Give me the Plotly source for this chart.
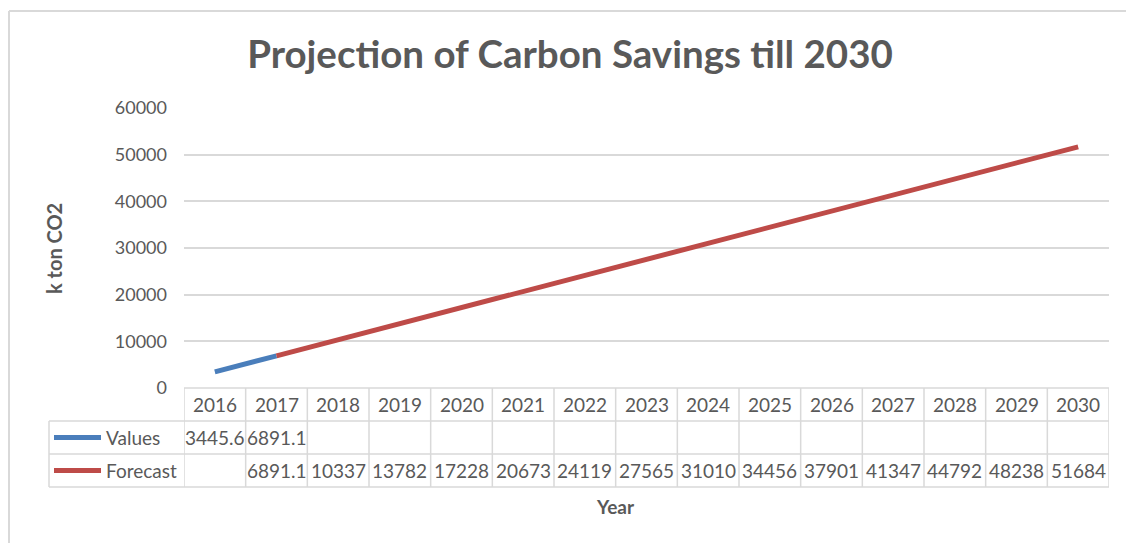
import plotly.graph_objects as go

# Chart data
years = [str(y) for y in range(2016, 2031)]
values = [3445.6, 6891.1] + [None] * 13
forecast = [None, 6891.1, 10337, 13782, 17228, 20673, 24119, 27565, 31010,
            34456, 37901, 41347, 44792, 48238, 51684]
values_text = ["3445.6", "6891.1"] + [""] * 13
forecast_text = [""] + ["6891.1", "10337", "13782", "17228", "20673", "24119",
                        "27565", "31010", "34456", "37901", "41347", "44792",
                        "48238", "51684"]

W, H = 1126, 543
BLUE = "#4a7ebb"
RED = "#be4b48"
GRID = "#d9d9d9"
TXT = "#595959"
FONT = "Lato"

def px(x):
    return x / W

def py(y):
    return 1 - y / H

fig = go.Figure()
fig.add_trace(go.Scatter(x=years, y=values, mode="lines", name="Values",
                         line=dict(color=BLUE, width=5), connectgaps=False))
fig.add_trace(go.Scatter(x=years, y=forecast, mode="lines", name="Forecast",
                         line=dict(color=RED, width=5), connectgaps=False))

# Data table rows (pixel rows)
hdr_top, hdr_bot, val_bot, fc_bot = 388, 421, 454, 487
leg_left = 49

shapes = []
ann = []
line_style = dict(color=GRID, width=1.5)

# Horizontal table borders
shapes.append(dict(type="line", xref="x", yref="paper", x0=-0.5, x1=14.5,
                   y0=py(hdr_top), y1=py(hdr_top), line=line_style))
for yy in (hdr_bot, val_bot, fc_bot):
    shapes.append(dict(type="line", xref="paper", yref="paper", x0=px(leg_left),
                       x1=px(1109), y0=py(yy), y1=py(yy), line=line_style))
# Vertical table borders
for i in range(16):
    shapes.append(dict(type="line", xref="x", yref="paper", x0=i - 0.5, x1=i - 0.5,
                       y0=py(hdr_top), y1=py(fc_bot), line=line_style))
shapes.append(dict(type="line", xref="paper", yref="paper", x0=px(leg_left),
                   x1=px(leg_left), y0=py(hdr_bot), y1=py(fc_bot), line=line_style))

# Legend keys inside the table
for yy, col in (((hdr_bot + val_bot) / 2, BLUE), ((val_bot + fc_bot) / 2, RED)):
    shapes.append(dict(type="line", xref="paper", yref="paper", x0=px(54), x1=px(101),
                       y0=py(yy), y1=py(yy), line=dict(color=col, width=5)))

tfont = dict(family=FONT, size=19, color=TXT)
ann.append(dict(text="Values", xref="paper", yref="paper", x=px(104),
                y=py((hdr_bot + val_bot) / 2), xanchor="left", yanchor="middle",
                showarrow=False, font=tfont))
ann.append(dict(text="Forecast", xref="paper", yref="paper", x=px(104),
                y=py((val_bot + fc_bot) / 2), xanchor="left", yanchor="middle",
                showarrow=False, font=tfont))

for i, yr in enumerate(years):
    ann.append(dict(text=yr, xref="x", yref="paper", x=i, y=py((hdr_top + hdr_bot) / 2),
                    showarrow=False, font=tfont, yanchor="middle"))
    if values_text[i]:
        ann.append(dict(text=values_text[i], xref="x", yref="paper", x=i,
                        y=py((hdr_bot + val_bot) / 2), showarrow=False, font=tfont,
                        yanchor="middle"))
    if forecast_text[i]:
        ann.append(dict(text=forecast_text[i], xref="x", yref="paper", x=i,
                        y=py((val_bot + fc_bot) / 2), showarrow=False, font=tfont,
                        yanchor="middle"))

# Axis titles
ann.append(dict(text="<b>k ton CO2</b>", xref="paper", yref="paper", x=px(54), y=py(249),
                textangle=-90, showarrow=False, xanchor="center", yanchor="middle",
                font=dict(family=FONT, size=20, color=TXT)))
ann.append(dict(text="<b>Year</b>", xref="paper", yref="paper", x=px(615), y=py(506),
                showarrow=False, xanchor="center", yanchor="middle",
                font=dict(family=FONT, size=19, color=TXT)))

# Chart frame (top and left edges; the rest runs past the page)
frame = dict(color="#d9d9d9", width=2)
shapes.append(dict(type="line", xref="paper", yref="paper", x0=px(9), x1=1,
                   y0=py(11), y1=py(11), line=frame))
shapes.append(dict(type="line", xref="paper", yref="paper", x0=px(9), x1=px(9),
                   y0=0, y1=py(11), line=frame))

fig.update_layout(
    width=W, height=H,
    margin=dict(l=0, r=0, t=0, b=0, pad=0, autoexpand=False),
    paper_bgcolor="white", plot_bgcolor="white",
    showlegend=False,
    title=dict(text="<b>Projection of Carbon Savings till 2030</b>", x=px(570), xanchor="center",
               y=py(55), yanchor="middle", automargin=False,
               font=dict(family=FONT, size=38.5, color=TXT)),
    xaxis=dict(domain=[px(184), px(1109)], range=[-0.5, 14.5], type="category",
               showticklabels=False, showgrid=False, zeroline=False, showline=False,
               ticks="", automargin=False),
    yaxis=dict(domain=[py(388), py(108)], range=[0, 60000], dtick=10000,
               tickformat="d", automargin=False,
               showgrid=True, gridcolor=GRID, gridwidth=1.5, zeroline=False,
               showline=False, ticks="", ticklabelstandoff=16,
               tickfont=dict(family=FONT, size=18, color=TXT)),
    shapes=shapes,
    annotations=ann,
)

fig.write_html("out.html")
